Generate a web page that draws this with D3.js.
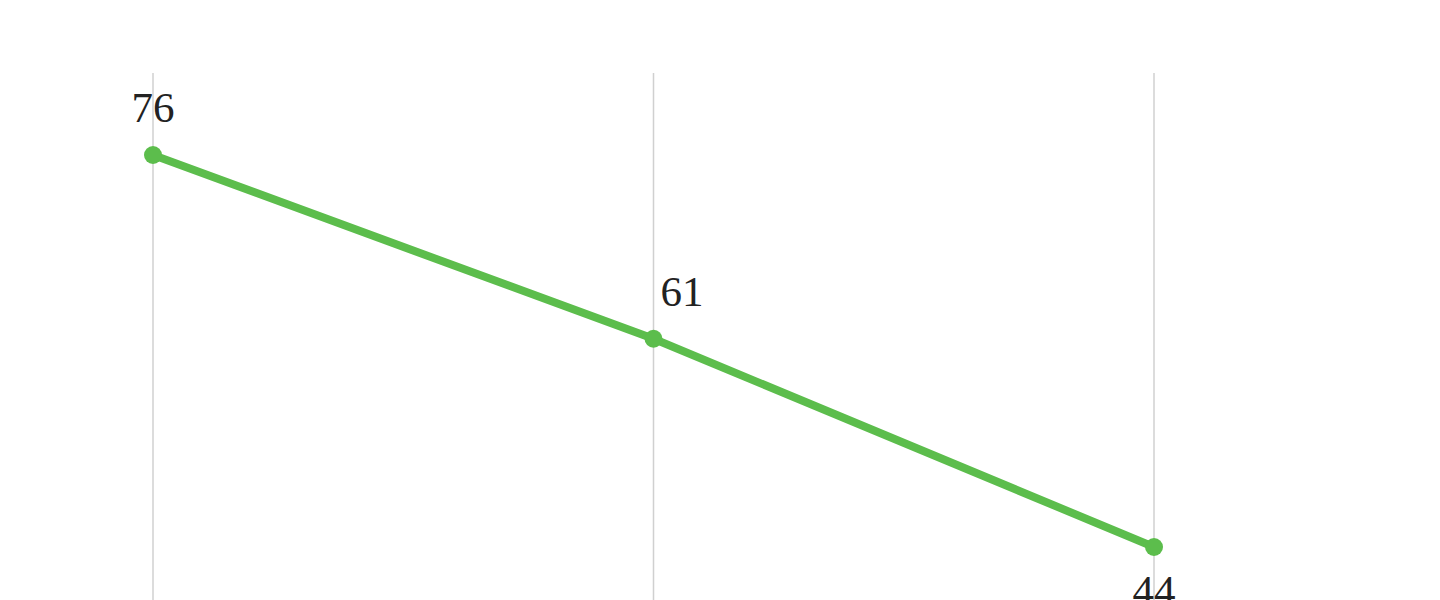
<!DOCTYPE html>
<html>
<head>
<meta charset="utf-8">
<script src="https://cdn.jsdelivr.net/npm/d3@7"></script>
<style>
  html, body { margin: 0; padding: 0; background: #fff; overflow: hidden; }
  svg { display: block; }
  .label { font-family: "Liberation Serif", "DejaVu Serif", serif; font-size: 43px; fill: #222; }
</style>
</head>
<body>
<svg width="1440" height="600"></svg>
<script>
// data
var categories = ['a', 'b', 'c']
var values = [76, 61, 44]
var labelPlacement = ['above', 'above-right', 'below']

var w = 1440,
    h = 600

var svg = d3.select('svg')

var xScale = d3.scalePoint()
               .domain(categories)
               .range([153, 1154])

var yScale = d3.scaleLinear()
               .domain([44, 76])
               .range([547, 155])

var points = categories.map((c, i) => ({cat: c, value: values[i], place: labelPlacement[i]}))

// vertical grid lines
svg.selectAll('.grid')
   .data(categories)
   .enter()
   .append('line')
   .attr('class', 'grid')
   .attr('x1', d => xScale(d))
   .attr('x2', d => xScale(d))
   .attr('y1', 73)
   .attr('y2', h)
   .attr('stroke', '#d0d0d0')
   .attr('stroke-width', 1.5)

var line = d3.line()
             .x(d => xScale(d.cat))
             .y(d => yScale(d.value))

svg.append('path')
   .datum(points)
   .attr('d', line)
   .attr('fill', 'none')
   .attr('stroke', '#5cbd4c')
   .attr('stroke-width', 8)

svg.selectAll('.dot')
   .data(points)
   .enter()
   .append('circle')
   .attr('class', 'dot')
   .attr('cx', d => xScale(d.cat))
   .attr('cy', d => yScale(d.value))
   .attr('r', 9)
   .attr('fill', '#5cbd4c')

svg.selectAll('.label')
   .data(points)
   .enter()
   .append('text')
   .attr('class', 'label')
   .attr('x', d => xScale(d.cat) + (d.place == 'above-right' ? 7 : 0))
   .attr('y', d => yScale(d.value) + (d.place == 'below' ? 58 : -33))
   .attr('text-anchor', d => d.place == 'above-right' ? 'start' : 'middle')
   .text(d => d.value)
</script>
</body>
</html>
